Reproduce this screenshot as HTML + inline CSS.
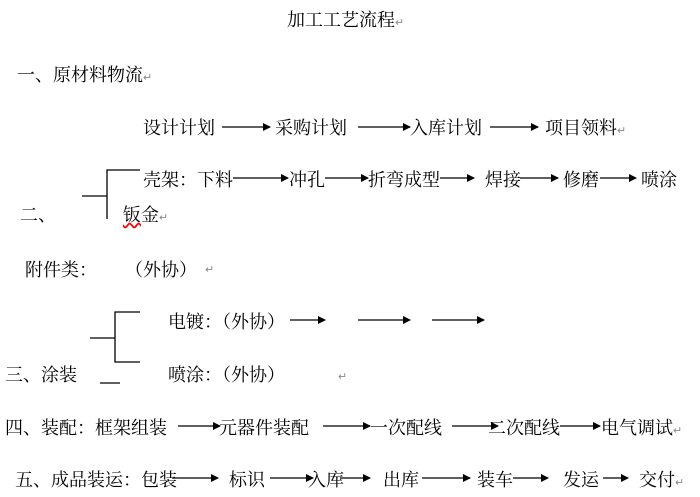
<!DOCTYPE html>
<html><head><meta charset="utf-8"><style>
body{margin:0;width:700px;height:497px;background:#fff;position:relative;overflow:hidden;font-family:"Liberation Serif","Noto Serif CJK SC","Noto Sans CJK SC",serif;font-size:18px;color:#000}
.t{position:absolute;white-space:nowrap;line-height:22px;transform:translateY(-11px)}
.r{color:#888;font-size:11px}
svg{position:absolute;left:0;top:0}
</style></head><body>
<div class="t" style="left:287px;top:20px">加工工艺流程<span class="r">↵</span></div>
<div class="t" style="left:17px;top:75px">一、原材料物流<span class="r">↵</span></div>
<div class="t" style="left:143px;top:128px">设计计划</div>
<div class="t" style="left:275px;top:128px">采购计划</div>
<div class="t" style="left:410px;top:128px">入库计划</div>
<div class="t" style="left:545px;top:128px">项目领料<span class="r">↵</span></div>
<div class="t" style="left:143px;top:180px">壳架：下料</div>
<div class="t" style="left:289px;top:180px">冲孔</div>
<div class="t" style="left:368px;top:180px">折弯成型</div>
<div class="t" style="left:485px;top:180px">焊接</div>
<div class="t" style="left:563px;top:180px">修磨</div>
<div class="t" style="left:641px;top:180px">喷涂</div>
<div class="t" style="left:20px;top:215px">二、</div>
<div class="t" style="left:123px;top:215px"><span style="text-decoration:underline wavy red">钣</span>金<span class="r">↵</span></div>
<div class="t" style="left:25px;top:270px">附件类：</div>
<div class="t" style="left:125px;top:270px">（外协）</div>
<div class="t r" style="left:205px;top:270px">↵</div>
<div class="t" style="left:168px;top:322px">电镀：（外协）</div>
<div class="t" style="left:5px;top:375px">三、涂装</div>
<div class="t" style="left:168px;top:375px">喷涂：（外协）</div>
<div class="t r" style="left:338px;top:377px">↵</div>
<div class="t" style="left:5px;top:428px">四、装配：框架组装</div>
<div class="t" style="left:219px;top:428px">元器件装配</div>
<div class="t" style="left:370px;top:428px">一次配线</div>
<div class="t" style="left:488px;top:428px">二次配线</div>
<div class="t" style="left:601px;top:428px">电气调试<span class="r">↵</span></div>
<div class="t" style="left:15px;top:480px">五、成品装运：包装</div>
<div class="t" style="left:229px;top:480px">标识</div>
<div class="t" style="left:308px;top:480px">入库</div>
<div class="t" style="left:383px;top:480px">出库</div>
<div class="t" style="left:477px;top:480px">装车</div>
<div class="t" style="left:563px;top:480px">发运</div>
<div class="t" style="left:639px;top:480px">交付<span class="r">↵</span></div>
<svg width="700" height="497">
<defs><marker id="a" markerWidth="8" markerHeight="8" refX="7" refY="4" orient="auto" markerUnits="userSpaceOnUse"><path d="M0,0 L8,4 L0,8z" fill="#000"/></marker></defs>
<g stroke="#000" stroke-width="1.3" marker-end="url(#a)">
<line x1="222" y1="127" x2="270" y2="127"/><line x1="358" y1="127" x2="410" y2="127"/><line x1="490" y1="127" x2="538" y2="127"/>
<line x1="233" y1="178" x2="288" y2="178"/><line x1="325" y1="178" x2="368" y2="178"/><line x1="440" y1="178" x2="474" y2="178"/><line x1="520" y1="178" x2="558" y2="178"/><line x1="600" y1="178" x2="636" y2="178"/>
<line x1="290" y1="320" x2="325" y2="320"/><line x1="358" y1="320" x2="410" y2="320"/><line x1="432" y1="320" x2="484" y2="320"/>
<line x1="178" y1="426" x2="220" y2="426"/><line x1="323" y1="426" x2="370" y2="426"/><line x1="452" y1="426" x2="498" y2="426"/><line x1="560" y1="426" x2="600" y2="426"/>
<line x1="172" y1="478" x2="218" y2="478"/><line x1="270" y1="478" x2="313" y2="478"/><line x1="340" y1="478" x2="370" y2="478"/><line x1="422" y1="478" x2="470" y2="478"/><line x1="513" y1="478" x2="548" y2="478"/><line x1="603" y1="478" x2="628" y2="478"/>
</g>
<g stroke="#000" stroke-width="1.3" fill="none">
<path d="M82,196 H107 M107,219 V170 H140"/>
<path d="M90,338 H115 M140,312 H115 V362 H140"/>
<path d="M100,383 H120"/>
</g>
</svg>
</body></html>
